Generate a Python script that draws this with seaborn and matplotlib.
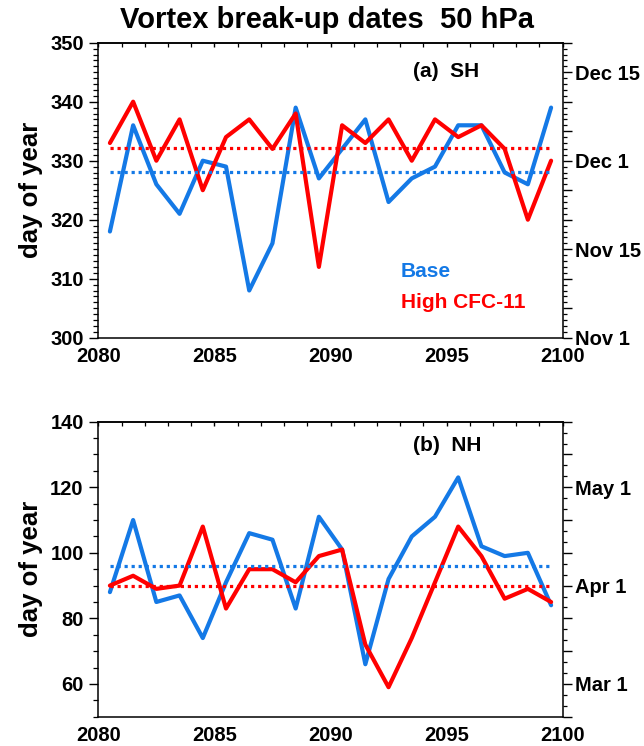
import numpy as np
import pandas as pd
import matplotlib
matplotlib.use("Agg")
import matplotlib.pyplot as plt
from matplotlib.ticker import MultipleLocator
import seaborn as sns

sns.set_theme(style="white")
plt.rcParams['font.family'] = ['Liberation Sans', 'DejaVu Sans']
plt.rcParams['font.weight'] = 'bold'
plt.rcParams['text.color'] = 'black'
plt.rcParams['axes.labelcolor'] = 'black'
plt.rcParams['xtick.color'] = 'black'
plt.rcParams['ytick.color'] = 'black'

years = [2080.5 + i for i in range(20)]
sh_base = [318, 336, 326, 321, 330, 329, 308, 316, 339, 327, 332, 337, 323, 327, 329, 336, 336, 328, 326, 339]
sh_cfc = [333, 340, 330, 337, 325, 334, 337, 332, 338, 312, 336, 333, 337, 330, 337, 334, 336, 332, 320, 330]
nh_base = [88, 110, 85, 87, 74, 91, 106, 104, 83, 111, 101, 66, 92, 105, 111, 123, 102, 99, 100, 84]
nh_cfc = [90, 93, 89, 90, 108, 83, 95, 95, 91, 99, 101, 72, 59, 74, 91, 108, 99, 86, 89, 85]

runs = ["Base", "High CFC-11"]
colors = {"Base": "#1479e6", "High CFC-11": "#ff0000"}

sh_right_pos = [300, 315, 330, 345]
sh_right_lab = ["Nov 1", "Nov 15", "Dec 1", "Dec 15"]
nh_right_pos = [60, 90, 120]
nh_right_lab = ["Mar 1", "Apr 1", "May 1"]

fig = plt.figure(figsize=(6.44, 7.46), dpi=100)
W, H = 644, 746
def rect(l, r, t, b):
    return [l / W, 1 - b / H, (r - l) / W, (b - t) / H]

ax1 = fig.add_axes(rect(98.3, 562.7, 42.7, 337.7))
ax2 = fig.add_axes(rect(98.3, 562.7, 421.7, 716.7))

FS = 14.5

def panel(ax, base, cfc, ylim, ymaj, ymin_, rmaj, rmin, rpos, rlab, tag, tagy, legend):
    df = pd.DataFrame({
        "year": years * 2,
        "day": base + cfc,
        "run": [runs[0]] * len(years) + [runs[1]] * len(years),
    })
    sns.lineplot(data=df, x="year", y="day", hue="run", palette=colors,
                 linewidth=3.0, ax=ax, legend=False)
    for r, vals in zip(runs, [base, cfc]):
        ax.hlines(np.mean(vals), years[0], years[-1], colors=colors[r],
                  linestyles=(0, (1, 1.2)), linewidth=2.3)
    ax.set_xlim(2080, 2100)
    ax.set_ylim(*ylim)
    ax.set_xlabel("")
    ax.set_ylabel("day of year", fontsize=18.5, fontweight="bold", labelpad=5,
                  color="black")
    ax.xaxis.set_major_locator(MultipleLocator(5))
    ax.xaxis.set_minor_locator(MultipleLocator(1))
    ax.yaxis.set_major_locator(MultipleLocator(ymaj))
    ax.yaxis.set_minor_locator(MultipleLocator(ymin_))
    ax.tick_params(axis="y", which="major", direction="out", length=6.5, width=1.0,
                   labelsize=FS, pad=4, colors="black", right=False)
    ax.tick_params(axis="y", which="minor", direction="out", length=3.6, width=0.9, right=False)
    ax.tick_params(axis="x", which="major", direction="out", length=3, width=1.0,
                   labelsize=FS, pad=4, colors="black")
    ax.tick_params(axis="x", which="minor", direction="out", length=3, width=0.9)
    for lab in ax.get_xticklabels() + ax.get_yticklabels():
        lab.set_fontweight("bold")
    for s in ax.spines.values():
        s.set_color("black")
        s.set_linewidth(1.1)
    # top ticks pointing inward
    top = ax.secondary_xaxis("top")
    top.xaxis.set_major_locator(MultipleLocator(5))
    top.xaxis.set_minor_locator(MultipleLocator(1))
    top.tick_params(which="major", direction="in", length=3, width=1.0, labeltop=False,
                    colors="black")
    top.tick_params(which="minor", direction="in", length=3, width=0.9, colors="black")
    top.spines["top"].set_linewidth(1.1)
    top.spines["top"].set_color("black")
    # right axis with dates
    rx = ax.twinx()
    rx.set_ylim(*ylim)
    rx.yaxis.set_major_locator(MultipleLocator(rmaj))
    rx.yaxis.set_minor_locator(MultipleLocator(rmin))
    rx.yaxis.set_major_formatter(plt.FuncFormatter(
        lambda v, p: rlab[rpos.index(int(round(v)))]
        if int(round(v)) in rpos and abs(v - round(v)) < 1e-6 else ""))
    rx.tick_params(axis="y", which="major", direction="out", length=6.5, width=1.0,
                   labelsize=FS, pad=2, colors="black")
    rx.tick_params(axis="y", which="minor", direction="out", length=3, width=0.9,
                   colors="black")
    for lab in rx.get_yticklabels():
        lab.set_fontweight("bold")
    rx.grid(False)
    for s in rx.spines.values():
        s.set_visible(False)
    ax.text(0.678, tagy, tag, transform=ax.transAxes, fontsize=15, fontweight="bold",
            ha="left", va="center", color="black")
    if legend:
        ax.text(0.651, 0.223, "Base", transform=ax.transAxes, fontsize=15,
                fontweight="bold", color=colors["Base"], ha="left", va="center")
        ax.text(0.651, 0.121, "High CFC-11", transform=ax.transAxes, fontsize=15,
                fontweight="bold", color=colors["High CFC-11"], ha="left", va="center")

panel(ax1, sh_base, sh_cfc, (300, 350), 10, 1, 5, 1, sh_right_pos, sh_right_lab,
      "(a)  SH", 0.902, True)
panel(ax2, nh_base, nh_cfc, (50, 140), 20, 5, 10, 10 / 3, nh_right_pos, nh_right_lab,
      "(b)  NH", 0.921, False)

fig.text(0.508, 0.973, "Vortex break-up dates  50 hPa", ha="center", va="center",
         fontsize=21, fontweight="bold", color="black")

fig.savefig("out.png", dpi=100)
